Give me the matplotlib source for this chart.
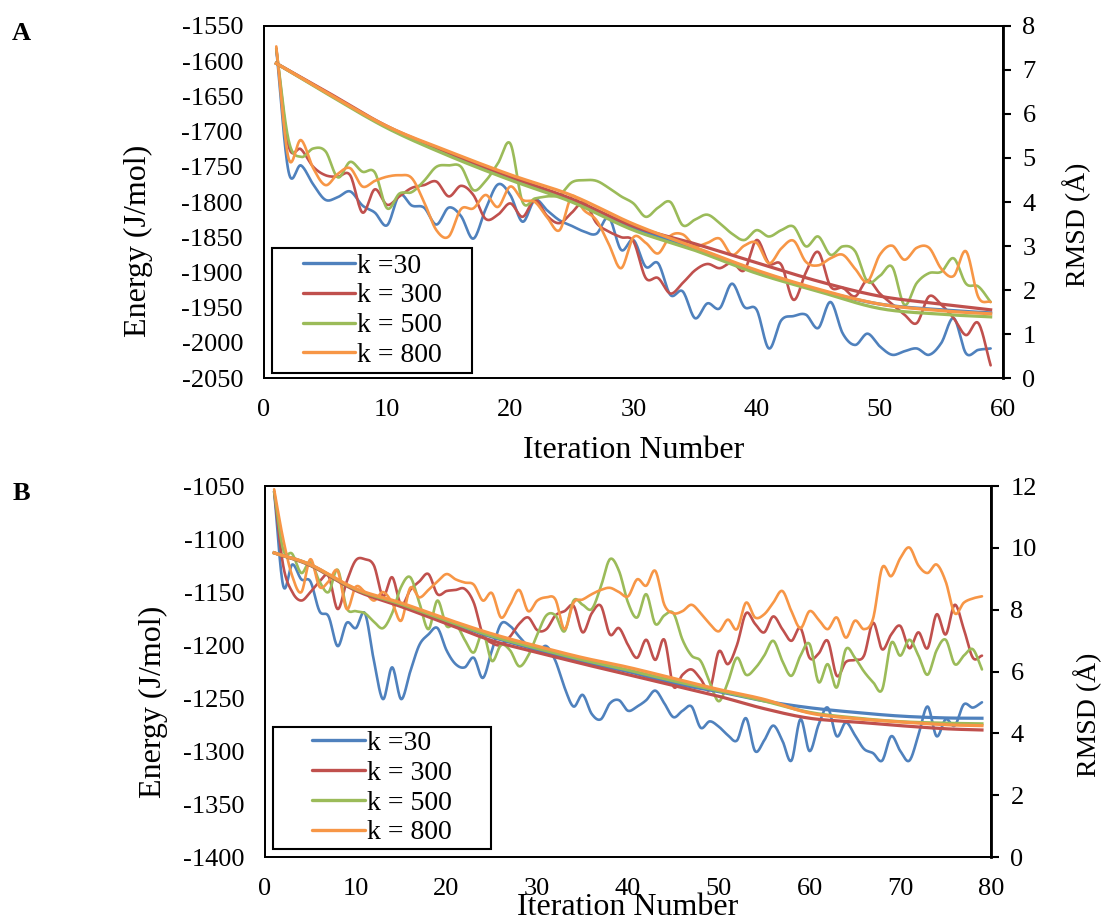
import numpy as np
import matplotlib
matplotlib.use('Agg')
from matplotlib import pyplot as plt
from matplotlib.patches import Rectangle

plt.rcParams['font.family'] = ['Liberation Serif', 'DejaVu Serif']
plt.rcParams['axes.unicode_minus'] = False

colors = ['#4F81BD', '#C0504D', '#9BBB59', '#F79646']
labels = ['k =30', 'k = 300', 'k = 500', 'k = 800']

# ---- panel A : energy (wiggly) per iteration
a_iter = list(range(1, 60))
a_e30 = [-1582, -1757, -1748, -1775, -1797, -1793, -1785, -1805, -1815, -1833,
         -1790, -1805, -1808, -1832, -1808, -1820, -1852, -1810, -1775, -1790,
         -1828, -1797, -1812, -1826, -1834, -1842, -1845, -1822, -1868, -1854,
         -1892, -1887, -1932, -1927, -1965, -1944, -1951, -1916, -1949, -1953,
         -2008, -1968, -1962, -1960, -1979, -1942, -1987, -2003, -1987, -2005,
         -2017, -2012, -2008, -2017, -2000, -1965, -2015, -2010, -2008]
a_e300 = [-1582, -1720, -1725, -1750, -1762, -1764, -1762, -1815, -1782, -1804,
          -1792, -1780, -1776, -1771, -1792, -1777, -1790, -1824, -1818, -1802,
          -1821, -1797, -1820, -1830, -1815, -1800, -1830, -1842, -1850, -1856,
          -1908, -1908, -1930, -1915, -1897, -1888, -1894, -1886, -1897, -1854,
          -1887, -1889, -1939, -1900, -1871, -1920, -1922, -1934, -1911, -1930,
          -1945, -1960, -1972, -1934, -1946, -1965, -1989, -1972, -2032]
a_e500 = [-1582, -1712, -1736, -1724, -1728, -1765, -1743, -1757, -1758, -1809,
          -1788, -1786, -1770, -1750, -1748, -1750, -1783, -1770, -1745, -1717,
          -1800, -1795, -1792, -1790, -1772, -1769, -1770, -1780, -1792, -1802,
          -1821, -1808, -1800, -1833, -1825, -1818, -1830, -1845, -1854, -1840,
          -1849, -1840, -1835, -1863, -1849, -1875, -1863, -1870, -1913, -1905,
          -1892, -1946, -1915, -1901, -1899, -1880, -1916, -1920, -1942]
a_e800 = [-1579, -1738, -1712, -1752, -1776, -1760, -1752, -1778, -1770, -1764,
          -1762, -1766, -1800, -1840, -1849, -1810, -1809, -1790, -1807, -1778,
          -1797, -1800, -1822, -1840, -1792, -1812, -1826, -1860, -1894, -1850,
          -1858, -1873, -1848, -1846, -1862, -1858, -1852, -1875, -1862, -1858,
          -1887, -1866, -1855, -1885, -1890, -1880, -1875, -1895, -1913, -1875,
          -1862, -1882, -1865, -1865, -1895, -1905, -1870, -1935, -1942]

# panel A : RMSD (smooth)
a_r_iter = [1, 5, 10, 15, 20, 25, 30, 35, 40, 45, 50, 55, 59]
a_r30 = [7.15, 6.50, 5.70, 5.10, 4.55, 4.05, 3.42, 2.95, 2.42, 2.00, 1.68, 1.55, 1.48]
a_r300 = [7.15, 6.52, 5.72, 5.12, 4.57, 4.07, 3.45, 3.05, 2.62, 2.20, 1.86, 1.68, 1.55]
a_r500 = [7.15, 6.48, 5.68, 5.05, 4.50, 4.00, 3.36, 2.90, 2.38, 1.97, 1.58, 1.45, 1.39]
a_r800 = [7.15, 6.50, 5.72, 5.15, 4.62, 4.15, 3.50, 2.97, 2.45, 2.02, 1.68, 1.53, 1.46]

# ---- panel B
b_iter = list(range(1, 80))
b_e30 = [-1055, -1144, -1124, -1138, -1140, -1168, -1173, -1201, -1179, -1184,
         -1170, -1215, -1251, -1221, -1251, -1225, -1200, -1190, -1184, -1205,
         -1218, -1221, -1212, -1231, -1205, -1180, -1182, -1192, -1201, -1206,
         -1201, -1215, -1240, -1258, -1247, -1265, -1270, -1255, -1252, -1262,
         -1258, -1252, -1243, -1255, -1268, -1262, -1258, -1278, -1272, -1277,
         -1285, -1290, -1269, -1300, -1290, -1276, -1290, -1309, -1270, -1300,
         -1275, -1259, -1286, -1273, -1285, -1298, -1302, -1309, -1286, -1300,
         -1309, -1285, -1258, -1286, -1270, -1276, -1256, -1259, -1254]
b_e300 = [-1055, -1125, -1150, -1158, -1150, -1140, -1135, -1166, -1140, -1120,
          -1119, -1125, -1154, -1136, -1162, -1148, -1140, -1133, -1152, -1149,
          -1148, -1147, -1160, -1190, -1198, -1200, -1192, -1180, -1174, -1186,
          -1185, -1172, -1168, -1163, -1188, -1170, -1163, -1190, -1184, -1200,
          -1212, -1195, -1214, -1195, -1239, -1228, -1223, -1232, -1242, -1206,
          -1218, -1200, -1170, -1180, -1188, -1173, -1185, -1196, -1184, -1212,
          -1208, -1196, -1229, -1216, -1214, -1210, -1179, -1204, -1190, -1182,
          -1203, -1188, -1203, -1171, -1190, -1162, -1185, -1212, -1210]
b_e500 = [-1055, -1110, -1114, -1132, -1121, -1140, -1150, -1129, -1165, -1168,
          -1170, -1178, -1184, -1170, -1145, -1136, -1160, -1185, -1158, -1182,
          -1180, -1195, -1207, -1188, -1215, -1200, -1205, -1220, -1210, -1190,
          -1172, -1172, -1187, -1158, -1162, -1166, -1145, -1119, -1130, -1160,
          -1174, -1152, -1180, -1172, -1170, -1195, -1210, -1215, -1235, -1253,
          -1235, -1212, -1228, -1222, -1210, -1196, -1215, -1229, -1210, -1199,
          -1235, -1218, -1240, -1204, -1212, -1225, -1235, -1242, -1198, -1210,
          -1195, -1210, -1228, -1205, -1195, -1218, -1210, -1204, -1223]
b_e800 = [-1053, -1100, -1135, -1150, -1119, -1145, -1140, -1130, -1166, -1145,
          -1150, -1158, -1150, -1160, -1177, -1146, -1155, -1148, -1140, -1133,
          -1138, -1141, -1143, -1158, -1151, -1174, -1162, -1148, -1168, -1158,
          -1155, -1157, -1185, -1160, -1157, -1152, -1148, -1146, -1150, -1154,
          -1138, -1144, -1130, -1162, -1170, -1168, -1162, -1170, -1180, -1187,
          -1176, -1185, -1160, -1174, -1171, -1160, -1149, -1168, -1184, -1168,
          -1176, -1185, -1174, -1193, -1177, -1185, -1175, -1127, -1135, -1118,
          -1108, -1125, -1132, -1124, -1140, -1170, -1160, -1156, -1154]

b_r_iter = [1, 5, 10, 15, 20, 25, 30, 35, 40, 45, 50, 55, 60, 65, 70, 75, 79]
b_r30 = [9.84, 9.45, 8.65, 8.15, 7.62, 7.12, 6.70, 6.30, 6.00, 5.62, 5.35, 5.05, 4.83, 4.68, 4.56, 4.50, 4.49]
b_r300 = [9.84, 9.43, 8.62, 8.10, 7.55, 7.00, 6.62, 6.25, 5.90, 5.55, 5.20, 4.80, 4.49, 4.37, 4.25, 4.15, 4.11]
b_r500 = [9.84, 9.45, 8.66, 8.18, 7.65, 7.15, 6.75, 6.38, 6.05, 5.70, 5.38, 5.05, 4.68, 4.50, 4.38, 4.33, 4.31]
b_r800 = [9.84, 9.46, 8.68, 8.22, 7.70, 7.22, 6.82, 6.45, 6.14, 5.78, 5.42, 5.10, 4.66, 4.48, 4.37, 4.28, 4.25]


def smooth(x, y, n=16):
    # excel style smoothed line (catmull-rom through the points)
    p = np.column_stack([x, y]).astype(float)
    p = np.vstack([2 * p[0] - p[1], p, 2 * p[-1] - p[-2]])
    t = np.linspace(0, 1, n, endpoint=False)[:, None]
    segs = []
    for i in range(1, len(p) - 2):
        p0, p1, p2, p3 = p[i - 1], p[i], p[i + 1], p[i + 2]
        segs.append(0.5 * (2 * p1 + (-p0 + p2) * t + (2 * p0 - 5 * p1 + 4 * p2 - p3) * t ** 2
                           + (-p0 + 3 * p1 - 3 * p2 + p3) * t ** 3))
    segs.append(p[-2][None, :])
    out = np.vstack(segs)
    return out[:, 0], out[:, 1]


def panel(rect, xs, energies, rx, rmsds, xlim, ylim, yticks, rlim, rticks,
          xlab_y, elab, rlab, legbox):
    ax = fig.add_axes(rect)
    ax2 = ax.twinx()
    lines = []
    for e, c, lab in zip(energies, colors, labels):
        sx, sy = smooth(xs, e)
        ln, = ax.plot(sx, sy, color=c, lw=1.9, label=lab, solid_capstyle='round')
        lines.append(ln)
    for r, c in zip(rmsds, colors):
        sx, sy = smooth(rx, r)
        ax2.plot(sx, sy, color=c, lw=2.3)
    ax.set_xlim(*xlim)
    ax.set_ylim(*ylim)
    ax.set_yticks(yticks)
    ax.set_xticks(np.arange(xlim[0], xlim[1] + 1, 10))
    ax2.set_ylim(*rlim)
    ax2.set_yticks(rticks)
    ax.tick_params(axis='both', length=0, labelsize=19, pad=15)
    ax2.tick_params(axis='y', direction='out', length=6, width=1.5, labelsize=19, pad=8)
    for a in (ax, ax2):
        for s in a.spines.values():
            s.set_linewidth(1.3)
    ax2.spines['right'].set_linewidth(2)
    ax.set_xlabel('Iteration Number', fontsize=23)
    ax.set_ylabel('Energy (J/mol)', fontsize=23)
    ax2.set_ylabel('RMSD (Å)', fontsize=20)
    ax.xaxis.set_label_coords(0.5, xlab_y)
    ax.yaxis.set_label_coords(*elab)
    ax2.yaxis.set_label_coords(*rlab)
    # legend with a hand made frame
    ax2.add_patch(Rectangle((legbox[0], legbox[1]), legbox[2], legbox[3], transform=ax.transAxes,
                            fill=True, facecolor='white', edgecolor='black', lw=1.5, zorder=5))
    leg = ax2.legend(handles=lines, loc='center', frameon=False, fontsize=20,
                     bbox_to_anchor=(legbox[0] + legbox[2] / 2, legbox[1] + legbox[3] / 2),
                     handlelength=1.9, handletextpad=0.05, labelspacing=0.16, borderpad=0)
    leg.set_zorder(6)
    for h in leg.get_lines():
        h.set_linewidth(2.4)
    return ax


fig = plt.figure(figsize=(11.03, 9.18), dpi=100)

panel([0.2393, 0.5882, 0.6700, 0.3835], a_iter, [a_e30, a_e300, a_e500, a_e800],
      a_r_iter, [a_r30, a_r300, a_r500, a_r800], (0, 60), (-2050, -1550),
      np.arange(-2050, -1549, 50), (0, 8), range(0, 9),
      -0.165, (-0.150, 0.39), (1.08, 0.435), (0.011, 0.014, 0.271, 0.355))

panel([0.2403, 0.0664, 0.6582, 0.4041], b_iter, [b_e30, b_e300, b_e500, b_e800],
      b_r_iter, [b_r30, b_r300, b_r500, b_r800], (0, 80), (-1400, -1050),
      np.arange(-1400, -1049, 50), (0, 12), range(0, 13, 2),
      -0.097, (-0.134, 0.418), (1.113, 0.383), (0.011, 0.022, 0.300, 0.329))

fig.text(0.011, 0.956, 'A', fontsize=19, fontweight='bold')
fig.text(0.011, 0.455, 'B', fontsize=19, fontweight='bold')

fig.savefig('out.png', dpi=100)
